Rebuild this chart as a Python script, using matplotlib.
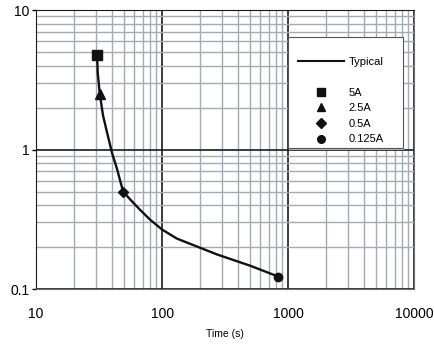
import numpy as np
import matplotlib
matplotlib.use("Agg")
import matplotlib.pyplot as plt
from matplotlib.lines import Line2D
from matplotlib.patches import Rectangle

plt.rcParams['font.family'] = ['Liberation Sans', 'DejaVu Sans']

# typical curve (time s, current)
curve_t = [30.5, 30.8, 32, 34, 36.6, 40, 44, 49, 57, 66.8, 80, 100, 131, 273, 500, 832]
curve_i = [4.8, 3.6, 2.5, 1.75, 1.32, 0.95, 0.72, 0.50, 0.43, 0.37, 0.315, 0.267, 0.230, 0.177, 0.147, 0.123]

# marked points
pt_labels = ['5A', '2.5A', '0.5A', '0.125A']
pt_t = [30.5, 32, 49, 832]
pt_i = [4.8, 2.5, 0.50, 0.123]
pt_marker = ['s', '^', 'D', 'o']
pt_size = [6.5, 6.5, 5.5, 6]

fig = plt.figure(figsize=(4.35, 3.47), dpi=100)
ax = fig.add_axes([0.083, 0.167, 0.869, 0.804])
ax.set_xscale('log')
ax.set_yscale('log')
ax.set_xlim(10, 10000)
ax.set_ylim(0.1, 10)

ax.grid(True, which='minor', color='#a3aab3', lw=1.0)
ax.grid(True, which='major', color='#1a1a1a', lw=1.2)
ax.set_axisbelow(True)

ax.plot(curve_t, curve_i, color='#111111', lw=1.7, zorder=3)
for t, i, m, s in zip(pt_t, pt_i, pt_marker, pt_size):
    ax.plot(t, i, marker=m, color='#111111', ms=s, ls='none', zorder=4)

ax.set_xticks([10, 100, 1000, 10000])
ax.set_xticklabels(['10', '100', '1000', '10000'])
ax.set_yticks([0.1, 1, 10])
ax.set_yticklabels(['0.1', '1', '10'])
ax.tick_params(axis='x', which='both', length=0, pad=13, labelsize=10)
ax.tick_params(axis='y', which='major', length=3, width=1, pad=2, labelsize=10)
ax.tick_params(axis='y', which='minor', length=0)
ax.set_xlabel('Time (s)', fontsize=7.5, labelpad=6)

for side in ['left', 'top']:
    ax.spines[side].set_color('#1a1a1a')
for side in ['right', 'bottom']:
    ax.spines[side].set_color('#6e6e6e')

# legend box (drawn separately) with light shadow
ax.add_patch(Rectangle((0.670, 0.500), 0.304, 0.398, transform=ax.transAxes,
                       facecolor='#b5b5b5', edgecolor='none', zorder=5))
ax.add_patch(Rectangle((0.667, 0.505), 0.304, 0.398, transform=ax.transAxes,
                       facecolor='white', edgecolor='#555555', lw=0.8, zorder=6))

handles = [Line2D([], [], color='#111111', lw=1.5),
           Line2D([], [], ls='none')]
labels = ['Typical', '']
for lab, m in zip(pt_labels, pt_marker):
    handles.append(Line2D([], [], marker=m, color='#111111', ls='none', ms=5.5))
    labels.append(lab)
leg = ax.legend(handles, labels, loc='upper left', bbox_to_anchor=(0.693, 0.833),
                fontsize=8, frameon=False, handlelength=4.1, labelspacing=0.5,
                borderpad=0, handletextpad=0.45, borderaxespad=0)
leg.set_zorder(7)

fig.savefig('out.png', dpi=100)
